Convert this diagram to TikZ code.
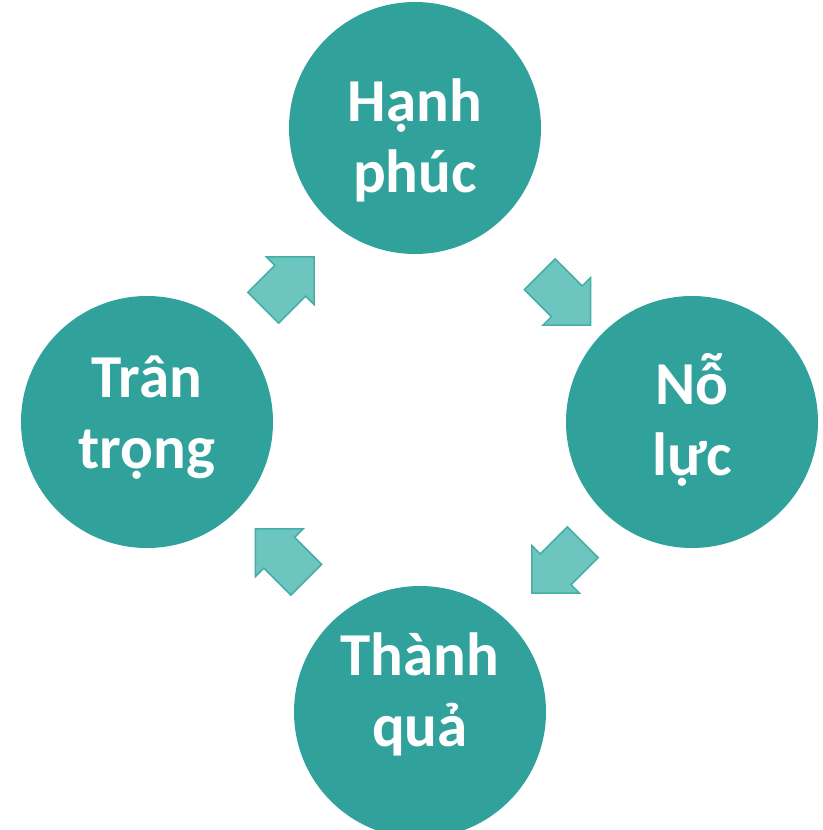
\documentclass[tikz,border=0pt]{standalone}
\usepackage{fontspec}
\setmainfont{Carlito}
\usepackage{xcolor}
\usepackage{tikz}
\usetikzlibrary{shapes.arrows,calc}

\definecolor{tealdark}{HTML}{31A29B}
\definecolor{teallight}{HTML}{6CC6BF}
\definecolor{tealedge}{HTML}{46AEA7}

\begin{document}
\begin{tikzpicture}[x=1pt,y=-1pt,
    bubble/.style={circle, fill=tealdark, inner sep=0pt, minimum size=252pt},
    caption/.style={text=white, align=center, font=\bfseries\fontsize{61}{71}\selectfont},
    turn/.style={single arrow, fill=teallight, draw=tealedge, line width=1.5pt,
        minimum height=72pt, inner sep=21pt, single arrow head extend=12pt,
        single arrow head indent=0pt}]
                \useasboundingbox (0,0) rectangle (822,830);

                % Circles
                \node[bubble] (hanhphuc) at (415,128) {};
                \node[bubble] (noluc) at (692,422) {};
                \node[bubble] (thanhqua) at (420,712) {};
                \node[bubble] (trantrong) at (147,422) {};

                % Texts
                \node[caption] (hanhphuc-text) at ($(hanhphuc)+(0,12)$) {Hạnh\\phúc};
                \node[caption] (noluc-text) at ($(noluc)+(0,-2)$) {Nỗ\\lực};
                \node[caption] (thanhqua-text) at ($(thanhqua)+(0,-18)$) {Thành\\quả};
                \node[caption] (trantrong-text) at ($(trantrong)+(0,-4)$) {Trân\\trọng};

                % Block arrows, clockwise
                \node[turn, rotate=45] (tl) at ($($(trantrong)!0.5!(hanhphuc)$)+(0,15)$) {};
                \node[turn, rotate=-45] (tr) at ($($(hanhphuc)!0.5!(noluc)$)+(4,17)$) {};
                \node[turn, rotate=-135] (br) at ($($(noluc)!0.5!(thanhqua)$)+(9,-7)$) {};
                \node[turn, rotate=135] (bl) at ($($(thanhqua)!0.5!(trantrong)$)+(5,-5)$) {};
            \end{tikzpicture}
\end{document}
